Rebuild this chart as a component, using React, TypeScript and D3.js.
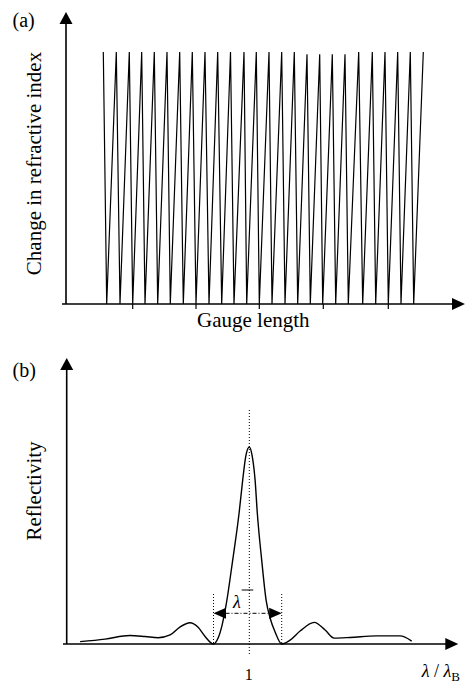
import React from 'react';
import * as d3 from 'd3';

// ---------- Panel (a): refractive index modulation along the gauge ----------
const gratingTops = [3.73, 5.03, 6.33, 7.57, 8.83, 10.1, 11.37, 12.63, 13.9, 15.17, 16.45, 17.8, 19.03, 20.3, 21.57, 22.83, 24.1, 25.37, 26.63, 27.9, 29.27, 30.63, 31.9, 33.17, 34.43, 35.73];
const gratingTopLevels = [1, 1, 1, 1, 1, 1, 1, 1, 1, 1, 1, 1, 1, 1, 1, 1, 0.991, 0.991, 0.991, 0.991, 1, 1, 1, 1, 1, 1];
const gratingBottoms = [4.07, 5.4, 6.67, 7.9, 9.17, 10.43, 11.73, 13.0, 14.3, 15.57, 16.8, 18.07, 19.33, 20.6, 21.9, 23.17, 24.43, 25.67, 26.97, 28.23, 29.67, 30.97, 32.23, 33.5, 34.77];
const gaugeTicks = [6.67, 13.0, 19.33, 25.73, 32.23];

// ---------- Panel (b): reflection spectrum ----------
const spectrumX = [0.9154, 0.9279, 0.9403, 0.9479, 0.9544, 0.9604, 0.9653, 0.9704, 0.9743, 0.9779, 0.9821, 0.9844, 0.9864, 0.9884, 0.9917, 0.9949, 0.9967, 0.9982, 1.0, 1.0015, 1.0029, 1.004, 1.0062, 1.0084, 1.0104, 1.0129, 1.0162, 1.0204, 1.0254, 1.0325, 1.0379, 1.0424, 1.0504, 1.0634, 1.0754, 1.0812];
const spectrumR = [0.012, 0.025, 0.043, 0.038, 0.032, 0.046, 0.086, 0.108, 0.086, 0.038, 0.0, 0.03, 0.096, 0.198, 0.426, 0.665, 0.832, 0.951, 1.0, 0.951, 0.832, 0.665, 0.426, 0.223, 0.132, 0.061, 0.0, 0.02, 0.066, 0.11, 0.071, 0.03, 0.033, 0.041, 0.041, 0.015];
const bandEdges = [0.9821, 1.0162];
const centerWavelength = 1;
const centerTickLabel = '1';

const FONT = "'Liberation Serif', 'Times New Roman', serif";

function App() {
  // panel (a)
  const xA = d3.scaleLinear().domain([0, 40]).range([66, 466]);
  const yA = d3.scaleLinear().domain([0, 1]).range([304, 52]);
  const sawPts: [number, number][] = [];
  gratingTops.forEach((t, i) => {
    sawPts.push([t, gratingTopLevels[i]]);
    if (i < gratingBottoms.length) sawPts.push([gratingBottoms[i], 0]);
  });
  const sawLine = d3.line<[number, number]>().x(d => xA(d[0])).y(d => yA(d[1]));

  // panel (b)
  const xB = d3.scaleLinear().domain([0.9, 1.1]).range([49.3, 449.3]);
  const yB = d3.scaleLinear().domain([0, 1]).range([644, 447]);
  const specPts: [number, number][] = spectrumX.map((x, i) => [x, spectrumR[i]]);
  const specLine = d3.line<[number, number]>().x(d => xB(d[0])).y(d => yB(d[1])).curve(d3.curveMonotoneX);

  const axisA = { x: 66, yTop: 12, yBot: 304, xL: 62, xR: 465 };
  const axisB = { x: 66.7, yTop: 358, yBot: 644, xL: 63, xR: 458.3 };

  const upArrow = (x: number, tip: number) => `M${x},${tip} L${x - 6.5},${tip + 12} L${x + 6.5},${tip + 12} Z`;
  const rightArrow = (tip: number, y: number) => `M${tip},${y} L${tip - 13},${y - 6} L${tip - 13},${y + 6} Z`;

  const bl = xB(bandEdges[0]);
  const br = xB(bandEdges[1]);
  const arrowY = 613.3;
  const cx = xB(centerWavelength);

  return (
    <svg width={471} height={683} style={{ position: 'absolute', left: 0, top: 0, background: '#fff' }}>
      <rect x={0} y={0} width={471} height={683} fill="#fff" />
      {/* ---------------- panel (a) ---------------- */}
      <text x={12.5} y={26.5} fontFamily={FONT} fontSize={20}>(a)</text>
      <line x1={axisA.x} y1={axisA.yBot} x2={axisA.x} y2={axisA.yTop + 10} stroke="#000" strokeWidth={1.6} />
      <path d={upArrow(axisA.x, axisA.yTop)} fill="#000" />
      <line x1={axisA.xL} y1={axisA.yBot} x2={axisA.xR - 10} y2={axisA.yBot} stroke="#000" strokeWidth={1.6} />
      <path d={rightArrow(axisA.xR, axisA.yBot)} fill="#000" />
      {gaugeTicks.map((t, i) => (
        <line key={i} x1={xA(t)} x2={xA(t)} y1={axisA.yBot} y2={axisA.yBot + 5} stroke="#000" strokeWidth={1.2} />
      ))}
      <path d={sawLine(sawPts) || ''} fill="none" stroke="#000" strokeWidth={1.2} strokeLinejoin="miter" />
      <text transform="translate(41,163.5) rotate(-90)" textAnchor="middle" fontFamily={FONT} fontSize={21}>Change in refractive index</text>
      <text x={253.3} y={327} textAnchor="middle" fontFamily={FONT} fontSize={21}>Gauge length</text>

      {/* ---------------- panel (b) ---------------- */}
      <text x={12.5} y={377} fontFamily={FONT} fontSize={20}>(b)</text>
      <line x1={axisB.x} y1={axisB.yBot} x2={axisB.x} y2={axisB.yTop + 10} stroke="#000" strokeWidth={1.6} />
      <path d={upArrow(axisB.x, axisB.yTop)} fill="#000" />
      <line x1={axisB.xL} y1={axisB.yBot} x2={axisB.xR - 10} y2={axisB.yBot} stroke="#000" strokeWidth={1.6} />
      <path d={rightArrow(axisB.xR, axisB.yBot)} fill="#000" />
      <text transform="translate(41,491) rotate(-90)" textAnchor="middle" fontFamily={FONT} fontSize={21}>Reflectivity</text>

      {/* centre dotted line */}
      <line x1={cx} x2={cx} y1={410} y2={656} stroke="#000" strokeWidth={1} strokeDasharray="1,2" />
      {/* bandwidth dotted lines */}
      <line x1={bl} x2={bl} y1={594} y2={645} stroke="#000" strokeWidth={1} strokeDasharray="1,2" />
      <line x1={br} x2={br} y1={594} y2={645} stroke="#000" strokeWidth={1} strokeDasharray="1,2" />
      {/* spectrum */}
      <path d={specLine(specPts) || ''} fill="none" stroke="#000" strokeWidth={1.4} />
      {/* double arrow */}
      <line x1={bl + 12} x2={br - 12} y1={arrowY} y2={arrowY} stroke="#000" strokeWidth={1} strokeDasharray="4,2,1,2" />
      <path d={`M${bl},${arrowY} L${bl + 12.5},${arrowY - 5.5} L${bl + 12.5},${arrowY + 5.5} Z`} fill="#000" />
      <path d={`M${br},${arrowY} L${br - 12.5},${arrowY - 5.5} L${br - 12.5},${arrowY + 5.5} Z`} fill="#000" />
      <text x={233} y={608} fontFamily={FONT} fontSize={18} fontStyle="italic">λ</text>
      <line x1={241.7} x2={253.3} y1={590} y2={590} stroke="#000" strokeWidth={1} />

      <text x={cx - 0.5} y={680} textAnchor="middle" fontFamily={FONT} fontSize={16}>{centerTickLabel}</text>
      <text x={421.7} y={676.7} fontFamily={FONT} fontSize={18}>
        <tspan fontStyle="italic">λ</tspan>
        <tspan> / </tspan>
        <tspan fontStyle="italic">λ</tspan>
        <tspan fontSize={13} dy={4}>B</tspan>
      </text>
    </svg>
  );
}

export default App;
